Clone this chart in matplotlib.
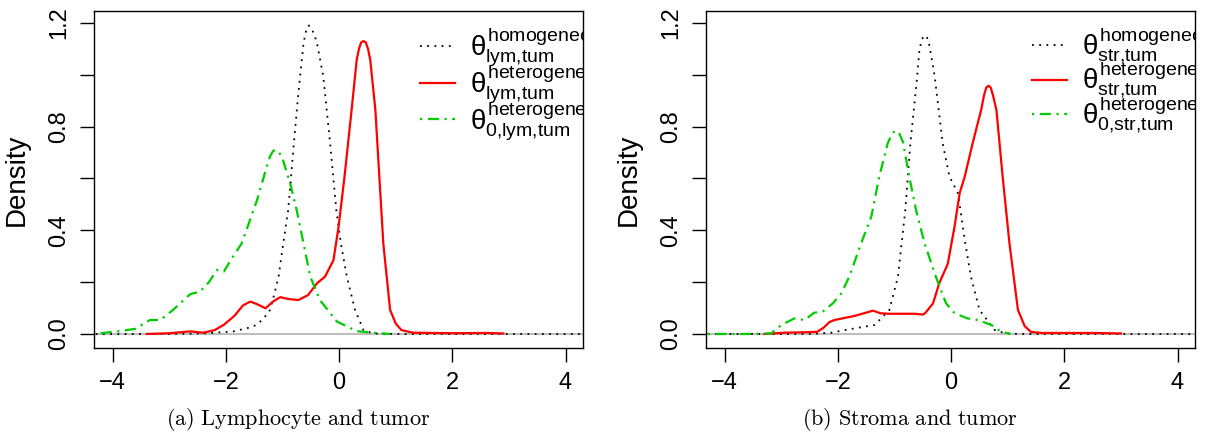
import numpy as np
import matplotlib.pyplot as plt

plt.rcParams['font.family'] = ['Liberation Sans', 'DejaVu Sans']
plt.rcParams['mathtext.fontset'] = 'custom'
plt.rcParams['mathtext.rm'] = 'Liberation Sans'
plt.rcParams['mathtext.it'] = 'Liberation Sans'
plt.rcParams['mathtext.sf'] = 'Liberation Sans'

# ---- panel (a): lymphocyte and tumor ----
lym_hom_x = [-4.3, -3.0, -2.4, -1.87, -1.52, -1.35, -1.22, -1.15, -1.07, -1.0, -0.9, -0.8,
             -0.72, -0.63, -0.6, -0.57, -0.54, -0.51, -0.47, -0.43, -0.38, -0.28, -0.16,
             -0.05, 0.03, 0.136, 0.28, 0.43, 0.6, 1.0, 4.3]
lym_hom_y = [0.0, 0.0, 0.002, 0.01, 0.028, 0.055, 0.093, 0.15, 0.221, 0.33, 0.478, 0.736,
             0.93, 1.12, 1.155, 1.18, 1.19, 1.185, 1.17, 1.15, 1.11, 0.993, 0.736,
             0.478, 0.35, 0.221, 0.093, 0.015, 0.002, 0.0, 0.0]

lym_het_x = [-3.4, -3.0, -2.63, -2.4, -2.2, -2.04, -1.85, -1.7, -1.57, -1.45, -1.3, -1.17,
             -1.04, -0.9, -0.72, -0.55, -0.39, -0.25, -0.1, -0.01, 0.095, 0.22, 0.31, 0.35,
             0.39, 0.43, 0.47, 0.51, 0.55, 0.64, 0.71, 0.78, 0.9, 1.0, 1.1, 1.3, 2.0, 2.6, 2.9]
lym_het_y = [0.0, 0.003, 0.01, 0.005, 0.015, 0.035, 0.07, 0.11, 0.125, 0.115, 0.099, 0.125,
             0.142, 0.135, 0.131, 0.15, 0.196, 0.221, 0.285, 0.414, 0.607, 0.864, 1.057, 1.10,
             1.125, 1.13, 1.125, 1.10, 1.057, 0.864, 0.607, 0.35, 0.093, 0.04, 0.015, 0.005,
             0.003, 0.004, 0.002]

lym_0_x = [-4.35, -4.0, -3.81, -3.6, -3.45, -3.34, -3.16, -2.95, -2.8, -2.63, -2.46, -2.3,
           -2.16, -2.04, -1.9, -1.72, -1.45, -1.28, -1.22, -1.17, -1.13, -1.08, -1.01,
           -0.866, -0.75, -0.63, -0.51, -0.34, -0.04, 0.31, 0.6, 0.9]
lym_0_y = [0.0, 0.008, 0.013, 0.02, 0.04, 0.054, 0.054, 0.09, 0.12, 0.154, 0.163, 0.2,
           0.247, 0.24, 0.29, 0.35, 0.517, 0.645, 0.685, 0.705, 0.71, 0.705, 0.684,
           0.581, 0.478, 0.35, 0.221, 0.131, 0.048, 0.011, 0.005, 0.0]

# ---- panel (b): stroma and tumor ----
str_hom_x = [-4.3, -2.5, -2.12, -1.88, -1.35, -1.09, -0.94, -0.81, -0.72, -0.6, -0.56, -0.52,
             -0.48, -0.44, -0.4, -0.37, -0.29, -0.15, -0.03, 0.12, 0.25, 0.35, 0.5, 0.77,
             0.95, 1.2, 4.3]
str_hom_y = [0.0, 0.0, 0.005, 0.015, 0.035, 0.093, 0.221, 0.478, 0.736, 0.993, 1.096, 1.135,
             1.15, 1.15, 1.13, 1.096, 0.993, 0.736, 0.607, 0.543, 0.35, 0.221, 0.093, 0.015,
             0.003, 0.0, 0.0]

str_het_x = [-3.3, -2.94, -2.5, -2.36, -2.25, -2.15, -2.06, -1.7, -1.38, -1.25, -1.12, -0.65,
             -0.5, -0.46, -0.32, -0.21, -0.06, 0.06, 0.15, 0.24, 0.38, 0.53, 0.58, 0.62, 0.66,
             0.7, 0.74, 0.8, 0.91, 1.03, 1.18, 1.3, 1.41, 1.6, 2.5, 3.0]
str_het_y = [0.0, 0.005, 0.007, 0.009, 0.025, 0.046, 0.054, 0.07, 0.09, 0.08, 0.078, 0.078,
             0.075, 0.08, 0.118, 0.196, 0.27, 0.414, 0.543, 0.607, 0.736, 0.864, 0.92, 0.95,
             0.958, 0.95, 0.92, 0.864, 0.607, 0.35, 0.093, 0.03, 0.008, 0.004, 0.004, 0.002]

str_0_x = [-4.3, -3.5, -3.18, -3.0, -2.77, -2.59, -2.42, -2.27, -2.09, -1.94, -1.8, -1.59,
           -1.41, -1.27, -1.12, -1.05, -1.0, -0.97, -0.92, -0.85, -0.74, -0.62, -0.47,
           -0.27, -0.09, 0.06, 0.29, 0.47, 0.71, 0.88, 1.05]
str_0_y = [0.0, 0.0, 0.002, 0.035, 0.06, 0.054, 0.082, 0.086, 0.118, 0.157, 0.221, 0.35,
           0.453, 0.607, 0.736, 0.77, 0.782, 0.784, 0.775, 0.74, 0.607, 0.478, 0.35,
           0.221, 0.118, 0.08, 0.06, 0.054, 0.035, 0.009, 0.0]

labels_a = [r'$\theta^{\mathrm{homogeneous}}_{\mathrm{lym{,}tum}}$',
            r'$\theta^{\mathrm{heterogeneous}}_{\mathrm{lym{,}tum}}$',
            r'$\theta^{\mathrm{heterogeneous}}_{\mathrm{0{,}lym{,}tum}}$']
labels_b = [r'$\theta^{\mathrm{homogeneous}}_{\mathrm{str{,}tum}}$',
            r'$\theta^{\mathrm{heterogeneous}}_{\mathrm{str{,}tum}}$',
            r'$\theta^{\mathrm{heterogeneous}}_{\mathrm{0{,}str{,}tum}}$']
captions = [r'$\mathrm{(a)\ Lymphocyte\ and\ tumor}$', r'$\mathrm{(b)\ Stroma\ and\ tumor}$']
x_ticks = [-4, -2, 0, 2, 4]
y_ticks = [0.0, 0.2, 0.4, 0.6, 0.8, 1.0, 1.2]
y_ticklabels = ['0.0', '', '0.4', '', '0.8', '', '1.2']

GREEN = '#00CD00'


def draw_panel(ax, hom, het, zero, labels, leg_x):
	"""
	Draw one density panel, R style.
	"""
	ax.axhline(0, color='#BEBEBE', lw=1.5, zorder=1)
	l1, = ax.plot(hom[0], hom[1], color='black', lw=1.3, ls=(0, (1, 3)))
	l2, = ax.plot(het[0], het[1], color='red', lw=1.6)
	l3, = ax.plot(zero[0], zero[1], color=GREEN, lw=1.6, ls=(0, (1, 2.5, 5, 2.5)))
	ax.set_xlim(-4.33, 4.31)
	ax.set_ylim(-0.054, 1.246)
	ax.set_xticks(x_ticks)
	ax.set_xticklabels([str(t).replace('-', '\u2212') for t in x_ticks])
	ax.set_yticks(y_ticks)
	ax.set_yticklabels(y_ticklabels, rotation=90, va='center')
	ax.tick_params(direction='out', length=10, width=1, labelsize=17)
	ax.tick_params(axis='x', pad=7)
	ax.tick_params(axis='y', pad=7)
	ax.set_ylabel('Density', fontsize=20)
	ax.yaxis.set_label_coords(-0.131, 0.5)
	for s in ax.spines.values():
		s.set_linewidth(1)
	leg = ax.legend([l1, l2, l3], labels, loc='upper left', bbox_to_anchor=(leg_x, 0.981),
	                frameon=False, fontsize=20, handlelength=1.26, handletextpad=0.54,
	                labelspacing=-0.245, borderaxespad=0, borderpad=0.3)
	for t in leg.get_texts():
		t.set_clip_box(ax.bbox)
		t.set_clip_on(True)


fig = plt.figure(figsize=(12.09, 4.37), dpi=100)
ax1 = fig.add_axes([0.0778, 0.2037, 0.4045, 0.7712])
ax2 = fig.add_axes([0.584, 0.2037, 0.4045, 0.7712])

draw_panel(ax1, (lym_hom_x, lym_hom_y), (lym_het_x, lym_het_y), (lym_0_x, lym_0_y), labels_a, 0.649)
draw_panel(ax2, (str_hom_x, str_hom_y), (str_het_x, str_het_y), (str_0_x, str_0_y), labels_b, 0.649)

fig.text(0.2465, 0.039, captions[0], ha='center', va='center', fontsize=16, math_fontfamily='cm')
fig.text(0.753, 0.039, captions[1], ha='center', va='center', fontsize=16, math_fontfamily='cm')

fig.savefig('out.png', dpi=100)
